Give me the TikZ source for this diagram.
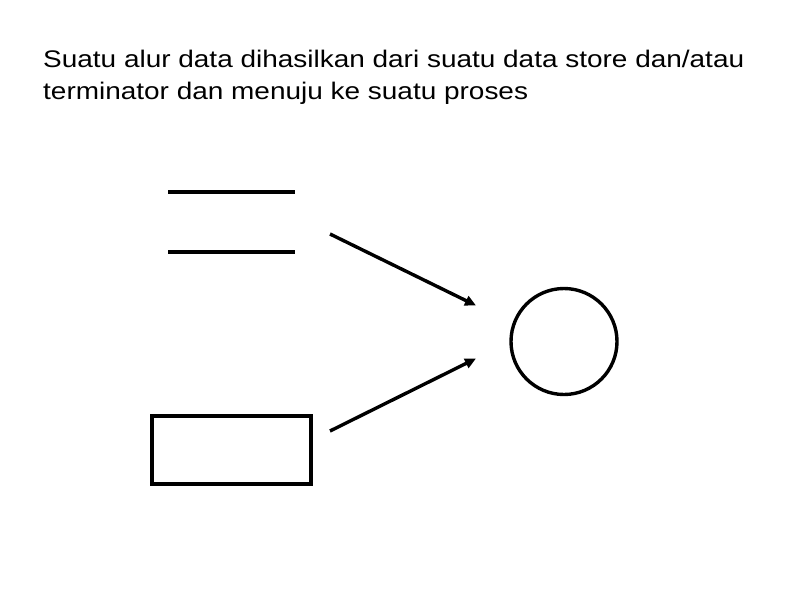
\documentclass[tikz,border=0pt]{standalone}
\usepackage{fontspec}
\setmainfont{Liberation Sans}
\newfontfamily\widesans[FakeStretch=1.165]{Liberation Sans}
\usetikzlibrary{arrows.meta}
\begin{document}
\begin{tikzpicture}[x=1pt,y=-1pt,
  txt/.style={anchor=base west,inner sep=0pt,font=\widesans\fontsize{24}{33}\selectfont},
  thickline/.style={draw=black,line width=4pt},
  flow/.style={draw=black,line width=3.4pt,-{Triangle[length=11pt,width=10pt]}}]
\useasboundingbox (0,0) rectangle (794,595);
\node[txt] (t1) at (43,67) {Suatu alur data dihasilkan dari suatu data store dan/atau};
\node[txt] (t2) at (43,99.5) {terminator dan menuju ke suatu proses};
% data store
\coordinate (s1a) at (168,191.5);
\coordinate (s1b) at (295,191.5);
\coordinate (s2a) at (168,251.5);
\coordinate (s2b) at (295,251.5);
\draw[thickline] (s1a) -- (s1b);
\draw[thickline] (s2a) -- (s2b);
% terminator
\node[thickline,minimum width=159pt,minimum height=68pt,inner sep=0pt] (term) at (231,449.5) {};
% process
\node[draw=black,line width=3.4pt,circle,minimum size=106pt,inner sep=0pt] (proc) at (564,341.5) {};
% flows
\coordinate (f1s) at (330,234);
\coordinate (f1e) at (476,305.5);
\coordinate (f2s) at (330,431);
\coordinate (f2e) at (476,358.5);
\draw[flow] (f1s) -- (f1e);
\draw[flow] (f2s) -- (f2e);
\end{tikzpicture}
\end{document}
